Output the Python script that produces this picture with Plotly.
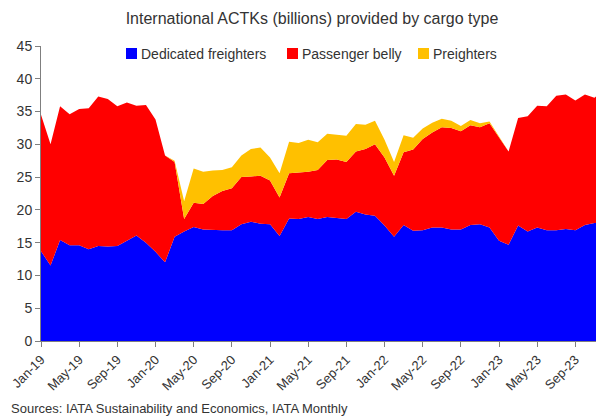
from plotly import graph_objects as go

# Monthly data, Jan-19 .. Dec-23 (ACTKs, billions)
MONTHS = [
    f"{m}-{y}"
    for y in ["19", "20", "21", "22", "23"]
    for m in ["Jan", "Feb", "Mar", "Apr", "May", "Jun",
              "Jul", "Aug", "Sep", "Oct", "Nov", "Dec"]
]

dedicated = [
    13.7, 11.5, 15.4, 14.6, 14.6, 14.0, 14.5, 14.4, 14.5, 15.3, 16.1, 15.0,
    13.6, 12.0, 15.9, 16.7, 17.4, 17.0, 16.9, 16.9, 16.9, 17.8, 18.2, 17.9,
    17.8, 16.0, 18.7, 18.6, 18.9, 18.6, 18.9, 18.7, 18.6, 19.7, 19.3, 19.1,
    17.6, 15.9, 17.7, 16.8, 16.9, 17.3, 17.3, 17.0, 17.0, 17.7, 17.8, 17.3,
    15.3, 14.7, 17.6, 16.7, 17.3, 16.9, 16.9, 17.1, 16.9, 17.7, 18.0, 18.0,
]

belly = [
    20.8, 18.5, 20.4, 20.0, 20.8, 21.5, 22.8, 22.5, 21.3, 21.1, 19.8, 21.0,
    20.2, 16.3, 11.4, 1.9, 3.7, 3.9, 5.2, 6.0, 6.4, 7.2, 6.9, 7.3,
    6.7, 5.9, 6.9, 7.1, 6.9, 7.5, 8.7, 9.0, 8.7, 9.2, 10.0, 10.9,
    10.4, 9.3, 11.1, 12.4, 13.9, 14.5, 15.3, 15.5, 15.0, 15.2, 14.8, 15.9,
    15.8, 14.2, 16.4, 17.6, 18.6, 18.9, 20.5, 20.5, 19.8, 19.9, 19.1, 20.3,
]

preighters = [
    0, 0, 0, 0, 0, 0, 0, 0, 0, 0, 0, 0,
    0, 0, 0.2, 2.7, 5.2, 4.9, 3.9, 3.2, 3.2, 3.3, 4.2, 4.3,
    3.5, 3.7, 4.8, 4.5, 4.9, 4.2, 4.0, 3.7, 4.0, 4.2, 3.7, 3.6,
    2.7, 2.1, 2.6, 1.8, 1.6, 1.5, 1.3, 1.1, 0.8, 0.8, 0.6, 0.3,
    0, 0, 0, 0, 0, 0, 0, 0, 0, 0, 0, 0,
]

TICK_LABELS = MONTHS[::4]

SERIES = [
    ("Dedicated freighters", dedicated, "#0000FF"),
    ("Passenger belly", belly, "#FF0000"),
    ("Preighters", preighters, "#FFC000"),
]

FONT = "Liberation Sans, Arial, sans-serif"
TEXT_COLOUR = "#333333"
AXIS_COLOUR = "#7f7f7f"

# The page body adds an 8px margin, so the figure is drawn 8px smaller
# and every pixel position below (given in window pixels) is shifted back.
PAGE_MARGIN = 8
FIG_W, FIG_H = 604 - PAGE_MARGIN, 420 - PAGE_MARGIN

# plot box in window pixels
PLOT_L, PLOT_R, PLOT_T, PLOT_B = 41, 604, 46, 341
PLOT_W, PLOT_H = PLOT_R - PLOT_L, PLOT_B - PLOT_T


def px_x(px):
    return (px - PLOT_L) / PLOT_W


def px_y(py):
    return (PLOT_B - py) / PLOT_H


fig = go.Figure()

for name, values, colour in SERIES:
    fig.add_trace(
        go.Scatter(
            x=MONTHS,
            y=values,
            name=name,
            mode="lines",
            stackgroup="cargo",
            line={"width": 0, "color": colour},
            fillcolor=colour,
            showlegend=False,
        )
    )

# Legend drawn by hand: small square + label
legend_left = [126, 287, 418]
for (name, _, colour), left in zip(SERIES, legend_left):
    fig.add_shape(
        type="rect",
        xref="paper",
        yref="paper",
        x0=px_x(left),
        x1=px_x(left + 11),
        y0=px_y(59),
        y1=px_y(48),
        fillcolor=colour,
        line={"width": 0},
    )
    fig.add_annotation(
        text=name,
        xref="paper",
        yref="paper",
        x=px_x(left + 13),
        y=px_y(53.5),
        xanchor="left",
        yanchor="middle",
        showarrow=False,
        font={"size": 14, "color": TEXT_COLOUR},
    )

fig.update_layout(
    width=FIG_W,
    height=FIG_H,
    margin={
        "l": PLOT_L - PAGE_MARGIN,
        "r": 604 - PLOT_R,
        "t": PLOT_T - PAGE_MARGIN,
        "b": 420 - PLOT_B,
    },
    paper_bgcolor="white",
    plot_bgcolor="white",
    font={"family": FONT, "color": TEXT_COLOUR, "size": 13},
    title={
        "text": "International ACTKs (billions) provided by cargo type",
        "x": px_x(312),
        "xref": "paper",
        "xanchor": "center",
        "y": 1 - (18 - PAGE_MARGIN) / FIG_H,
        "yanchor": "middle",
        "font": {"size": 16, "color": TEXT_COLOUR},
    },
    showlegend=False,
    xaxis={
        "type": "category",
        "range": [0, 59],
        "tickmode": "array",
        "tickvals": TICK_LABELS,
        "ticktext": TICK_LABELS,
        "tickangle": -45,
        "ticks": "outside",
        "ticklen": 5,
        "tickcolor": AXIS_COLOUR,
        "showline": True,
        "linecolor": AXIS_COLOUR,
        "showgrid": False,
        "zeroline": False,
        "automargin": False,
        "tickfont": {"size": 13},
    },
    yaxis={
        "range": [0, 45],
        "dtick": 5,
        "ticks": "outside",
        "ticklen": 5,
        "tickcolor": AXIS_COLOUR,
        "showline": True,
        "linecolor": AXIS_COLOUR,
        "showgrid": False,
        "zeroline": False,
        "automargin": False,
        "tickfont": {"size": 14},
    },
)

fig.add_annotation(
    text="Sources: IATA Sustainability and Economics, IATA Monthly",
    xref="paper",
    yref="paper",
    x=px_x(9),
    y=px_y(408),
    xanchor="left",
    yanchor="middle",
    showarrow=False,
    font={"size": 13, "color": TEXT_COLOUR},
)

fig.write_html("out.html")
